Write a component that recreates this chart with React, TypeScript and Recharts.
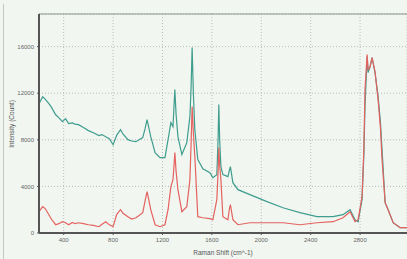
import { LineChart, Line, XAxis, YAxis, CartesianGrid, ReferenceLine, Label } from 'recharts';

// ── Spectrum data ──────────────────────────────────────────
const ramanShift = [
  200, 230, 250, 280, 300, 335, 360, 390, 415, 440, 470, 490, 520, 560, 600, 640,
  685, 710, 740, 770, 800, 830, 860, 880, 920, 950, 985, 1010, 1040, 1060, 1075,
  1090, 1105, 1140, 1180, 1220, 1245, 1268, 1285, 1292, 1300, 1310, 1325, 1357,
  1397, 1422, 1432, 1440, 1450, 1462, 1486, 1527, 1584, 1608, 1640, 1650, 1656,
  1663, 1673, 1689, 1730, 1742, 1750, 1770, 1811, 1908, 2046, 2176, 2313, 2451,
  2581, 2662, 2719, 2759, 2784, 2816, 2830, 2840, 2857, 2865, 2881, 2897, 2921,
  2946, 2965, 2978, 3003, 3027, 3068, 3124, 3180,
];

const sampleA = [
  11100, 11700, 11500, 11100, 10800, 10150, 9900, 9560, 9820, 9390, 9450, 9350, 9300, 9050, 8790, 8600,
  8360, 8450, 8270, 8100, 7580, 8400, 8870, 8500, 8010, 7900, 7840, 8000, 8190, 9000, 9730,
  9000, 8270, 6900, 6470, 6470, 8010, 9480, 9130, 10600, 12310, 10200, 8270, 6730,
  7760, 9990, 12600, 15920, 12000, 8870, 6300, 5520, 5180, 4750, 5010, 8000, 11020,
  8000, 5700, 5010, 4840, 5400, 5700, 4320, 3720, 3290, 2690, 2170, 1750, 1400,
  1400, 1570, 2000, 1140, 970, 2860, 6500, 10850, 15140, 13770, 14280, 15060, 13770,
  11710, 9500, 7160, 2600, 2000, 890, 460, 460,
];

const sampleB = [
  1830, 2260, 2100, 1570, 1200, 710, 800, 970, 880, 710, 900, 800, 880, 800, 710, 650,
  540, 750, 970, 700, 540, 1600, 2000, 1700, 1400, 1200, 1310, 1500, 1740, 2800, 3550,
  2800, 2000, 710, 540, 710, 2000, 3980, 4580, 5600, 6900, 5300, 3720, 1830,
  2260, 4580, 7800, 10850, 8600, 6550, 1400, 1310, 1230, 1140, 2860, 5200, 7330,
  5800, 4580, 1400, 1140, 2100, 2430, 1140, 710, 880, 880, 880, 710, 880,
  970, 1310, 1830, 970, 1140, 3120, 7000, 12310, 15310, 14030, 14280, 15060, 13860,
  11450, 9000, 6300, 2600, 2000, 890, 460, 460,
];

const xTicks = [400, 800, 1200, 1600, 2000, 2400, 2800];
const yTicks = [0, 4000, 8000, 12000, 16000];

const data = ramanShift.map((s, i) => ({ shift: s, a: sampleA[i], b: sampleB[i] }));

const FONT = "'Liberation Sans', Arial, sans-serif";
const TICK = { fontFamily: FONT, fontSize: 6, fill: '#666' };

export default function App() {
  return (
    <div style={{ position: 'fixed', left: 0, top: 0, width: 407, height: 259, background: '#f1f6f1' }}>
      <div style={{ position: 'absolute', left: 3, top: 4, width: 1, height: 255, background: '#c4c8c4' }} />
      <LineChart width={407} height={259} data={data} margin={{ top: 14, right: 0, bottom: 0, left: 0 }}>
        <CartesianGrid stroke="#b8bdb8" strokeDasharray="1 2" />
        <XAxis
          dataKey="shift"
          type="number"
          domain={[200, 3180]}
          ticks={xTicks}
          allowDataOverflow
          height={26}
          tick={TICK}
          tickSize={2}
          tickMargin={3}
          stroke="#555"
          axisLine={{ stroke: '#555', strokeWidth: 2 }}
        >
          <Label
            value="Raman Shift (cm^-1)"
            position="insideBottom"
            offset={4}
            style={{ fontFamily: FONT, fontSize: 6.5, fill: '#555' }}
          />
        </XAxis>
        <YAxis
          type="number"
          domain={[0, 18800]}
          ticks={yTicks}
          allowDataOverflow
          width={39}
          tick={TICK}
          tickSize={2}
          tickMargin={3}
          stroke="#555"
          axisLine={{ stroke: '#555', strokeWidth: 2 }}
        >
          <Label
            content={() => (
              <text
                x={12}
                y={124}
                transform="rotate(-90 12 124)"
                textAnchor="middle"
                dominantBaseline="middle"
                style={{ fontFamily: FONT, fontSize: 6.5, fill: '#555' }}
              >
                Intensity (Count)
              </text>
            )}
          />
        </YAxis>
        <ReferenceLine y={18800} stroke="#8c918c" strokeWidth={1.2} />
        <Line type="linear" dataKey="a" stroke="#3f9d8d" strokeWidth={1.2} dot={false} isAnimationActive={false} />
        <Line type="linear" dataKey="b" stroke="#e4625f" strokeWidth={1.2} dot={false} isAnimationActive={false} />
      </LineChart>
    </div>
  );
}
